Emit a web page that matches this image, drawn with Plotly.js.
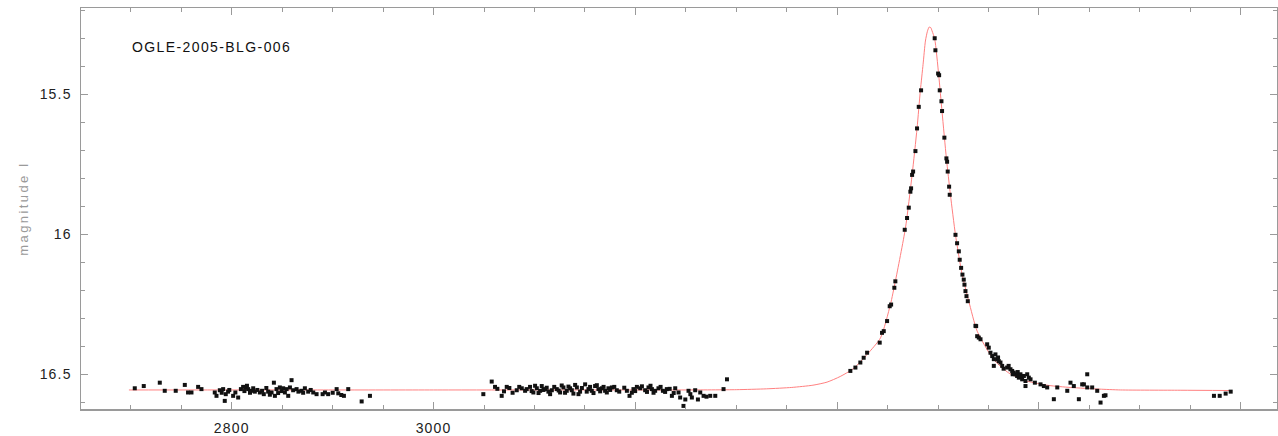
<!DOCTYPE html>
<html>
<head>
<meta charset="utf-8">
<script src="https://cdn.plot.ly/plotly-3.0.1.min.js"></script>
<style>
  html, body { margin: 0; padding: 0; background: #fff; }
  #chart { width: 1278px; height: 436px; }
  .xtick text, .ytick text { letter-spacing: 1.2px; }
  .annotation-text { letter-spacing: 1.4px; }
  .ytitle { letter-spacing: 2.4px; }
</style>
</head>
<body>
<div id="chart"></div>
<script>
// ---- data ----
const eventName = "OGLE-2005-BLG-006";
const yAxisLabel = "magnitude I";

// observed photometry: time (HJD-2450000) and I magnitude
const obsTime = [
  2703.8, 2712.7, 2728.6, 2733.5, 2744.4, 2753.4, 2756.6, 2760.0, 2766.6, 2769.9,
  2783.1, 2784.8, 2788.1, 2790.0, 2791.4, 2793.0, 2794.0, 2796.3, 2797.5, 2801.3,
  2803.5, 2806.3, 2809.0, 2811.2, 2812.5, 2813.9, 2815.0, 2816.2, 2818.0, 2819.5,
  2821.2, 2822.8, 2825.3, 2827.8, 2830.0, 2831.7, 2834.2, 2836.0, 2837.7, 2839.4,
  2841.7, 2842.7, 2844.3, 2845.9, 2847.6, 2849.3, 2850.9, 2852.6, 2854.3, 2855.9,
  2857.6, 2859.2, 2860.8, 2864.2, 2866.0, 2869.1, 2870.7, 2872.4, 2875.7, 2878.2,
  2880.7, 2884.0, 2890.0, 2892.3, 2895.5, 2900.0, 2903.9, 2905.5, 2908.5, 2911.1,
  2915.4, 2928.7, 2936.9,
  3049.3, 3057.6, 3060.9, 3063.2, 3067.5, 3069.8, 3072.5, 3075.1, 3078.3, 3082.4,
  3084.9, 3087.4, 3090.7, 3092.3, 3095.6, 3097.2, 3098.9, 3100.6, 3102.3, 3104.0,
  3105.6, 3107.2, 3108.9, 3110.5, 3112.1, 3113.8, 3115.5, 3117.2, 3119.6, 3122.1,
  3124.0, 3125.4, 3127.0, 3128.7, 3130.3, 3132.0, 3133.7, 3135.3, 3137.0, 3138.6,
  3140.3, 3142.0, 3143.6, 3145.2, 3147.0, 3150.2, 3151.8, 3153.5, 3155.1, 3156.8,
  3158.5, 3160.1, 3161.8, 3163.4, 3165.1, 3166.8, 3168.5, 3170.0, 3171.7, 3173.3,
  3175.0, 3176.7, 3179.1, 3181.6, 3184.0, 3189.0, 3191.6, 3194.2, 3196.5, 3198.1,
  3199.8, 3201.5, 3204.8, 3206.5, 3209.7, 3211.5, 3213.0, 3215.0, 3216.4, 3218.0,
  3219.6, 3222.9, 3225.0, 3227.3, 3229.5, 3231.2, 3234.0, 3236.2, 3238.0, 3239.5,
  3242.8, 3244.4, 3247.7, 3249.5, 3252.7, 3254.5, 3256.0, 3259.3, 3262.0, 3264.3,
  3267.6, 3270.5, 3274.2, 3279.2, 3287.4, 3290.8,
  3413.1, 3418.1, 3423.0, 3426.3, 3429.7, 3442.2, 3444.5, 3446.2, 3449.5, 3452.1,
  3453.5, 3456.7, 3457.7, 3467.0, 3469.3, 3471.0, 3472.6, 3473.3, 3474.3, 3475.3,
  3477.6, 3479.2, 3480.9, 3483.2,
  3496.7, 3497.4, 3500.1, 3501.1, 3501.7, 3503.4, 3504.0, 3506.3, 3508.3, 3509.0,
  3509.6, 3511.0, 3511.6, 3517.3, 3518.9, 3520.6, 3521.5, 3522.9, 3524.2, 3525.5,
  3526.2, 3527.2, 3528.2, 3529.5, 3537.1, 3537.8, 3538.8, 3540.4, 3542.1, 3548.7,
  3550.3, 3552.0, 3553.7, 3555.3, 3556.9, 3558.6, 3559.5, 3560.2, 3561.9, 3555.3,
  3563.6, 3565.0, 3568.5, 3570.0, 3571.8, 3573.5, 3574.0, 3575.1, 3576.8, 3578.4,
  3579.0, 3580.1, 3581.7, 3582.5, 3583.4, 3585.1, 3586.7, 3588.4, 3590.0, 3591.7,
  3586.7, 3596.0, 3601.6, 3604.9, 3608.2, 3614.8, 3618.2, 3628.1, 3631.3, 3634.6,
  3639.6, 3642.9, 3644.6, 3647.9, 3647.9, 3652.8, 3657.8, 3661.1, 3664.4, 3666.0,
  3773.5, 3779.2, 3785.1, 3790.1
];
const obsMag = [
  16.550, 16.542, 16.530, 16.559, 16.559, 16.538, 16.565, 16.565, 16.545, 16.553,
  16.565, 16.577, 16.557, 16.566, 16.553, 16.595, 16.571, 16.562, 16.556, 16.577,
  16.565, 16.583, 16.553, 16.545, 16.560, 16.547, 16.541, 16.553, 16.566, 16.559,
  16.550, 16.562, 16.556, 16.565, 16.559, 16.571, 16.549, 16.562, 16.573, 16.565,
  16.530, 16.577, 16.553, 16.567, 16.547, 16.560, 16.550, 16.565, 16.553, 16.577,
  16.547, 16.521, 16.557, 16.553, 16.562, 16.559, 16.566, 16.550, 16.562, 16.556,
  16.565, 16.571, 16.571, 16.565, 16.571, 16.566, 16.553, 16.568, 16.574, 16.577,
  16.553, 16.597, 16.577,
  16.571, 16.526, 16.545, 16.552, 16.577, 16.561, 16.545, 16.549, 16.566, 16.557,
  16.545, 16.550, 16.559, 16.553, 16.545, 16.560, 16.565, 16.541, 16.550, 16.567,
  16.559, 16.542, 16.556, 16.553, 16.548, 16.562, 16.571, 16.557, 16.545, 16.553,
  16.558, 16.565, 16.540, 16.547, 16.566, 16.559, 16.544, 16.550, 16.557, 16.569,
  16.538, 16.547, 16.571, 16.562, 16.549, 16.536, 16.562, 16.553, 16.545, 16.559,
  16.567, 16.542, 16.539, 16.553, 16.561, 16.550, 16.545, 16.559, 16.565, 16.550,
  16.556, 16.547, 16.545, 16.557, 16.562, 16.548, 16.559, 16.577, 16.566, 16.553,
  16.560, 16.545, 16.550, 16.543, 16.557, 16.563, 16.547, 16.541, 16.553, 16.566,
  16.559, 16.550, 16.545, 16.559, 16.563, 16.553, 16.552, 16.577, 16.567, 16.550,
  16.565, 16.583, 16.613, 16.590, 16.559, 16.571, 16.583, 16.557, 16.590, 16.565,
  16.577, 16.580, 16.577, 16.577, 16.553, 16.518,
  16.488, 16.476, 16.458, 16.441, 16.423, 16.387, 16.352, 16.346, 16.310, 16.257,
  16.251, 16.191, 16.168, 15.984, 15.942, 15.905, 15.848, 15.836, 15.788, 15.776,
  15.703, 15.622, 15.545, 15.486,
  15.300, 15.343, 15.426, 15.432, 15.486, 15.525, 15.560, 15.655, 15.729, 15.741,
  15.776, 15.830, 15.859, 16.002, 16.032, 16.061, 16.091, 16.120, 16.144, 16.162,
  16.180, 16.203, 16.221, 16.239, 16.327, 16.328, 16.364, 16.369, 16.375, 16.393,
  16.405, 16.423, 16.435, 16.446, 16.429, 16.447, 16.440, 16.453, 16.458, 16.470,
  16.470, 16.480, 16.476, 16.470, 16.482, 16.488, 16.500, 16.494, 16.500, 16.506,
  16.492, 16.512, 16.500, 16.510, 16.518, 16.506, 16.524, 16.500, 16.512, 16.518,
  16.542, 16.530, 16.536, 16.542, 16.547, 16.589, 16.547, 16.559, 16.530, 16.542,
  16.589, 16.536, 16.536, 16.500, 16.547, 16.547, 16.559, 16.601, 16.577, 16.575,
  16.577, 16.577, 16.569, 16.562
];

// fitted model light curve (red line)
const modelTime = [
  2698, 2800, 2900, 3000, 3100, 3200, 3250, 3300, 3330, 3355,
  3376, 3390, 3403, 3416, 3430, 3443, 3452.8, 3457.7, 3467.7, 3474.3,
  3479.2, 3482.5, 3485.2, 3487.5, 3489.5, 3491.2, 3492.8, 3494.1, 3496.7, 3500.7,
  3504.0, 3508.3, 3512.3, 3517.3, 3523.9, 3530.5, 3538.8, 3555, 3570, 3588,
  3610, 3631, 3660, 3681, 3740, 3790
];
const modelMag = [
  16.556, 16.556, 16.556, 16.556, 16.556, 16.556, 16.556, 16.555, 16.552, 16.547,
  16.539, 16.528, 16.508, 16.480, 16.428, 16.370, 16.251, 16.168, 15.978, 15.788,
  15.622, 15.486, 15.393, 15.310, 15.275, 15.260, 15.262, 15.274, 15.302, 15.432,
  15.563, 15.729, 15.859, 16.002, 16.144, 16.239, 16.346, 16.447, 16.495, 16.524,
  16.540, 16.547, 16.553, 16.556, 16.557, 16.558
];

// axis ticks
const xTickVals = [2600, 2800, 3000, 3200, 3400, 3600, 3800];
const xTickText = ["", "2800", "3000", "", "", "", ""];
const yTickVals = [15.5, 16, 16.5];
const yTickText = ["15.5", "16", "16.5"];

// ---- chart ----
const axisColor = "#9a9a9a";
const tickFont = { family: "Liberation Sans, Arial, sans-serif", size: 14, color: "#222" };

const traces = [
  {
    x: modelTime, y: modelMag, type: "scatter", mode: "lines",
    line: { color: "#ff8080", width: 1, shape: "spline", smoothing: 0.6 }, hoverinfo: "skip"
  },
  {
    x: obsTime, y: obsMag, type: "scatter", mode: "markers",
    marker: { symbol: "square", size: 4, color: "#111" }, hoverinfo: "skip"
  }
];

const layout = {
  width: 1278, height: 436,
  margin: { l: 81, r: 1, t: 8, b: 27, pad: 0 },
  paper_bgcolor: "#fff", plot_bgcolor: "#fff",
  showlegend: false,
  xaxis: {
    range: [2650.5, 3836.0],
    showgrid: false, zeroline: false,
    showline: true, linecolor: axisColor, linewidth: 1.5, mirror: "ticks",
    ticks: "inside", ticklen: 7, tickcolor: axisColor, tickwidth: 1,
    tickmode: "array", tickvals: xTickVals, ticktext: xTickText,
    ticklabelstandoff: 6,
    tickfont: tickFont,
    minor: { dtick: 50, tick0: 2800, ticks: "inside", ticklen: 4, tickcolor: axisColor, showgrid: false }
  },
  yaxis: {
    range: [16.624, 15.192],
    showgrid: false, zeroline: false,
    showline: true, linecolor: axisColor, linewidth: 1.5, mirror: "ticks",
    ticks: "inside", ticklen: 7, tickcolor: axisColor, tickwidth: 1,
    tickmode: "array", tickvals: yTickVals, ticktext: yTickText,
    ticklabelstandoff: 5,
    tickfont: tickFont,
    minor: { dtick: 0.1, tick0: 15.5, ticks: "inside", ticklen: 4, tickcolor: axisColor, showgrid: false },
    title: { text: yAxisLabel, standoff: 8, font: { family: "Liberation Sans, Arial, sans-serif", size: 13, color: "#9a9a9a" } }
  },
  annotations: [
    {
      xref: "paper", yref: "paper", x: 0.041, y: 0.903,
      xanchor: "left", yanchor: "middle", showarrow: false,
      text: eventName,
      font: { family: "Liberation Sans, Arial, sans-serif", size: 14, color: "#111" }
    }
  ]
};

Plotly.newPlot("chart", traces, layout, { displayModeBar: false, staticPlot: true });
</script>
</body>
</html>
